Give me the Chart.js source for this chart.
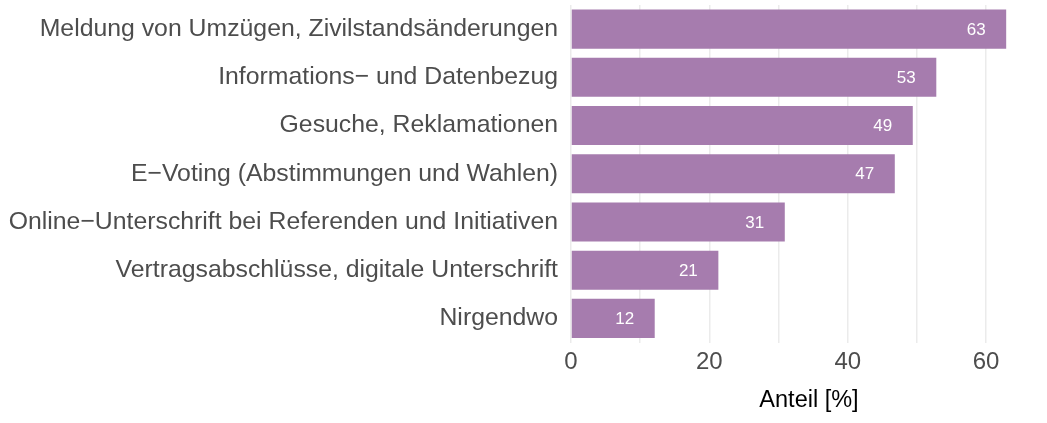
<!DOCTYPE html>
<html>
<head>
<meta charset="utf-8">
<script src="https://cdn.jsdelivr.net/npm/chart.js@4"></script>
<style>
  html, body { margin: 0; padding: 0; background: #fff; }
  #wrap { width: 1047px; height: 423px; }
</style>
</head>
<body>
<div id="wrap"><canvas id="chart"></canvas></div>
<script>
// Data
const categories = [
    "Meldung von Umzügen, Zivilstandsänderungen",
    "Informations\u2212 und Datenbezug",
    "Gesuche, Reklamationen",
    "E\u2212Voting (Abstimmungen und Wahlen)",
    "Online\u2212Unterschrift bei Referenden und Initiativen",
    "Vertragsabschlüsse, digitale Unterschrift",
    "Nirgendwo"
];
const shares = [62.9, 52.8, 49.4, 46.8, 30.9, 21.3, 12.1];
const xTicks = [0, 20, 40, 60];
const xGrid = [0, 10, 20, 30, 40, 50, 60];

const font = "'Liberation Sans', Arial, Helvetica, sans-serif";

// white value labels inside the bar ends
const valueLabels = {
    id: "valueLabels",
    afterDatasetsDraw(chart) {
        const ctx = chart.ctx;
        const meta = chart.getDatasetMeta(0);
        ctx.save();
        ctx.fillStyle = "#ffffff";
        ctx.font = "17px " + font;
        ctx.textAlign = "center";
        ctx.textBaseline = "middle";
        meta.data.forEach((bar, i) => {
            ctx.fillText(Math.round(shares[i]), bar.x - 30, bar.y + 1);
        });
        ctx.restore();
    }
};

new Chart("chart", {
    type: "bar",
    data: {
        labels: categories,
        datasets: [{
            data: shares,
            backgroundColor: "#a67cae",
            barPercentage: 0.81,
            categoryPercentage: 1,
        }],
    },
    plugins: [valueLabels],
    options: {
        indexAxis: "y",
        responsive: true,
        maintainAspectRatio: false,
        animation: false,
        layout: {
            padding: { top: 5, right: 0, left: 8, bottom: 8.5 },
        },
        plugins: {
            legend: { display: false },
            tooltip: { enabled: false },
        },
        scales: {
            x: {
                min: 0,
                max: 68.8,
                border: { display: false },
                grid: {
                    color: "#ebebeb",
                    lineWidth: 1.5,
                    drawTicks: false,
                },
                afterBuildTicks: s => { s.ticks = xGrid.map(v => ({ value: v })); },
                ticks: {
                    autoSkip: false,
                    maxRotation: 0,
                    padding: 5,
                    color: "#4d4d4d",
                    font: { family: font, size: 24 },
                    callback: v => xTicks.includes(v) ? v : "",
                },
                title: {
                    display: true,
                    text: "Anteil [%]",
                    color: "#000000",
                    font: { family: font, size: 23.5 },
                    padding: { top: 5, bottom: 0 },
                },
            },
            y: {
                border: { display: false },
                grid: { display: false, drawTicks: false },
                afterFit: s => { s.paddingTop = 0; s.paddingBottom = 0; s.width = 563; },
                ticks: {
                    color: "#4d4d4d",
                    padding: 13,
                    font: { family: font, size: 24.8 },
                },
            },
        },
    },
});
</script>
</body>
</html>
